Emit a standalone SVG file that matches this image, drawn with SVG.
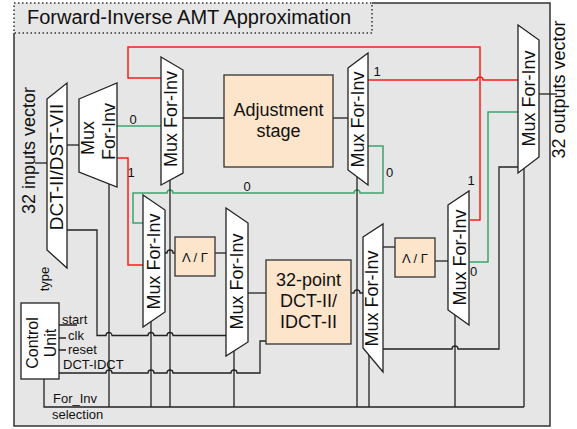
<svg xmlns="http://www.w3.org/2000/svg" width="577" height="429" viewBox="0 0 577 429">
<style>
.t{font-family:"Liberation Sans",Arial,sans-serif;fill:#111}
.m{font-size:18px}
.s{font-size:13px}
.d{font-size:13px}
.ln{stroke:#222;stroke-width:1.3;fill:none}
.rd{stroke:#ff1a1a;stroke-width:1.5;fill:none}
.gn{stroke:#3aa66c;stroke-width:1.5;fill:none}
.mux{fill:#fff;stroke:#222;stroke-width:1.3}
.box{fill:#fde5cb;stroke:#333;stroke-width:1.3}
</style>
<rect x="0" y="0" width="577" height="429" fill="#fff"/>
<g id="frame">
<rect x="14" y="3" width="536" height="423" fill="#e6e6e6"/>
<path d="M372,3 H550 V426 H14 V33" fill="none" stroke="#333" stroke-width="1.5"/>
<rect x="14" y="3" width="358" height="30" fill="none" stroke="#333" stroke-width="1.5" stroke-dasharray="1.5,2.5"/>
<text class="t" x="27" y="24" font-size="20">Forward-Inverse AMT Approximation</text>
</g>
<g id="connectors">
<path class="rd" d="M161,78 H128 V47 H480 V220 H470"/>
<path class="rd" d="M368,80 H477 A3,3 0 0 1 483,80 H518"/>
<path class="rd" d="M117,158 H128 V265 H143"/>
<path class="gn" d="M117,126 H161"/>
<path class="gn" d="M368,146 H383 V193 H360 A3,3 0 0 0 354,193 H173 A3,3 0 0 0 167,193 H133 V223 H143"/>
<path class="gn" d="M518,112 H488 V262 H470"/>
<path class="ln" d="M35,163 H47"/>
<path class="ln" d="M67,145 H79"/>
<path class="ln" d="M67,230 H97 V335.5 H106 A3,3 0 0 1 112,335.5 H148 A3,3 0 0 1 154,335.5 H167 A3,3 0 0 1 173,335.5 H226"/>
<path class="ln" d="M109,184 V407"/>
<path class="ln" d="M183,118 H224"/>
<path class="ln" d="M333,118 H348"/>
<path class="ln" d="M170,180 V407"/>
<path class="ln" d="M165,253 H167 A3,3 0 0 1 173,253 H175"/>
<path class="ln" d="M215,253 H226"/>
<path class="ln" d="M151,321.5 V407"/>
<path class="ln" d="M248,293 H266"/>
<path class="ln" d="M351,293 H354 A3,3 0 0 1 360,293 H363"/>
<path class="ln" d="M357,177 V407"/>
<path class="ln" d="M234,351 V407"/>
<path class="ln" d="M383,247 H395"/>
<path class="ln" d="M435,261 H448"/>
<path class="ln" d="M383,349 H452 A3,3 0 0 1 458,349 H499 V167 H518"/>
<path class="ln" d="M369,355 V407"/>
<path class="ln" d="M455,315 V407"/>
<path class="ln" d="M524,168 V407"/>
<path class="ln" d="M44,379 V407 H524"/>
<path class="ln" d="M59,373 H106 A3,3 0 0 1 112,373 H148 A3,3 0 0 1 154,373 H167 A3,3 0 0 1 173,373 H231 A3,3 0 0 1 237,373 H260 V341 H266"/>
<path class="ln" d="M539,94 H557"/>
<path class="ln" d="M59,325 H77 M59,338 H66 M59,350 H66"/>
<text class="t d" x="133" y="124" text-anchor="middle">0</text>
<text class="t d" x="131" y="177" text-anchor="middle">1</text>
<text class="t d" x="247" y="191" text-anchor="middle">0</text>
<text class="t d" x="377" y="76" text-anchor="middle">1</text>
<text class="t d" x="389.5" y="177" text-anchor="middle">0</text>
<text class="t d" x="471" y="185" text-anchor="middle">1</text>
<text class="t d" x="473.5" y="276" text-anchor="middle">0</text>
</g>
<g id="inputs-label">
<text class="t m" transform="translate(34.5,150.5) rotate(-90)" text-anchor="middle">32 inputs vector</text>
</g>
<g id="outputs-label">
<text class="t m" transform="translate(565,89.5) rotate(-90)" text-anchor="middle">32 outputs vector</text>
</g>
<g id="dct-dst">
<polygon class="mux" points="47,99 67,83 67,268 47,250"/>
<text class="t" font-size="19" transform="translate(63,167) rotate(-90)" text-anchor="middle">DCT-II/DST-VII</text>
</g>
<g id="mux-in">
<polygon class="mux" points="79,99 117,83 117,187 79,172"/>
<text class="t m" transform="translate(94,138) rotate(-90)" text-anchor="middle">Mux</text>
<text class="t m" transform="translate(115,131.5) rotate(-90)" text-anchor="middle">For-Inv</text>
</g>
<g id="mux-a">
<polygon class="mux" points="161,57 183,70 183,173 161,185"/>
<text class="t m" transform="translate(177,119) rotate(-90)" text-anchor="middle">Mux For-Inv</text>
</g>
<g id="adjustment">
<rect class="box" x="224" y="75" width="109" height="92"/>
<text class="t m" x="278.5" y="116" text-anchor="middle">Adjustment</text>
<text class="t m" x="278.5" y="137" text-anchor="middle">stage</text>
</g>
<g id="mux-b">
<polygon class="mux" points="348,68 368,53 368,185 348,170"/>
<text class="t m" transform="translate(364,119.5) rotate(-90)" text-anchor="middle">Mux For-Inv</text>
</g>
<g id="mux-out">
<polygon class="mux" points="518,25 539,40 539,157 518,173"/>
<text class="t m" transform="translate(535,98.5) rotate(-90)" text-anchor="middle">Mux For-Inv</text>
</g>
<g id="mux-c">
<polygon class="mux" points="143,195 165,210 165,312 143,327"/>
<text class="t m" transform="translate(160,261.5) rotate(-90)" text-anchor="middle">Mux For-Inv</text>
</g>
<g id="lambda-1">
<rect class="box" x="175" y="237" width="40" height="39"/>
<text class="t" font-size="13" x="195" y="261.5" text-anchor="middle">Λ / Γ</text>
</g>
<g id="mux-d">
<polygon class="mux" points="226,208 248,223 248,342 226,356"/>
<text class="t m" transform="translate(243,281.5) rotate(-90)" text-anchor="middle">Mux For-Inv</text>
</g>
<g id="dct32">
<rect class="box" x="266" y="260" width="85" height="84"/>
<text class="t m" x="308.5" y="286" text-anchor="middle">32-point</text>
<text class="t m" x="308.5" y="307" text-anchor="middle">DCT-II/</text>
<text class="t m" x="308.5" y="327.5" text-anchor="middle">IDCT-II</text>
</g>
<g id="mux-e">
<polygon class="mux" points="363,237 383,224 383,372 363,348"/>
<text class="t m" transform="translate(378,298.5) rotate(-90)" text-anchor="middle">Mux For-Inv</text>
</g>
<g id="lambda-2">
<rect class="box" x="395" y="238" width="40" height="39"/>
<text class="t" font-size="13" x="415" y="262.5" text-anchor="middle">Λ / Γ</text>
</g>
<g id="mux-f">
<polygon class="mux" points="448,205 469,191 469,325 448,310"/>
<text class="t m" transform="translate(466,257.5) rotate(-90)" text-anchor="middle">Mux For-Inv</text>
</g>
<g id="control-unit">
<rect x="21" y="303" width="38" height="76" fill="#fff" stroke="#222" stroke-width="1.3"/>
<text class="t" font-size="16" transform="translate(38,343) rotate(-90)" text-anchor="middle">Control</text>
<text class="t" font-size="16" transform="translate(56,343) rotate(-90)" text-anchor="middle">Unit</text>
<text class="t s" transform="translate(49,279) rotate(-90)" text-anchor="middle">type</text>
<text class="t s" x="62" y="323.5">start</text>
<text class="t s" x="68" y="340">clk</text>
<text class="t s" x="68" y="354">reset</text>
<text class="t s" x="63" y="368.5">DCT-IDCT</text>
<text class="t s" x="53" y="403">For_Inv</text>
<text class="t s" x="52" y="419">selection</text>
</g>
</svg>
